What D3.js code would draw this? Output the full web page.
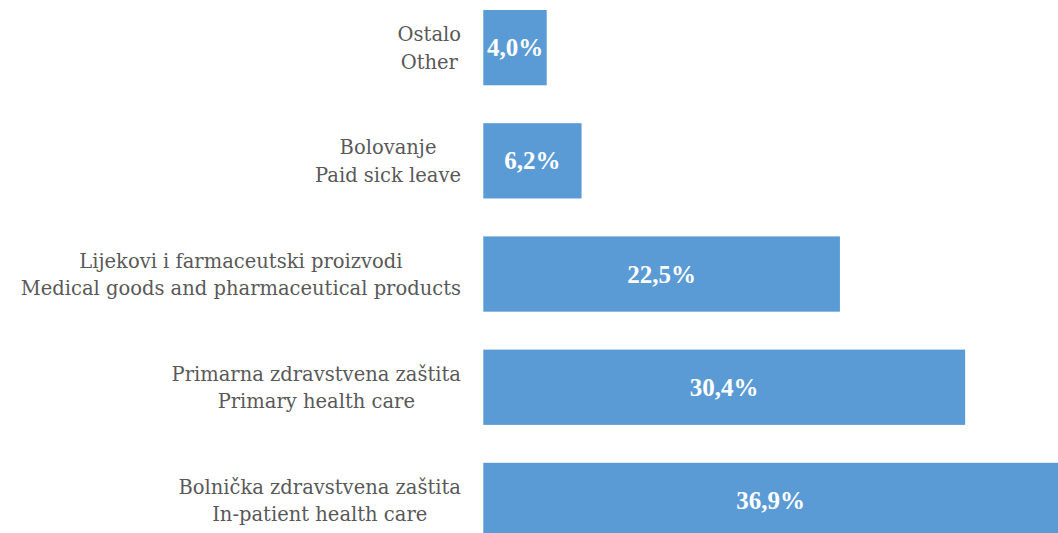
<!DOCTYPE html>
<html>
<head>
<meta charset="utf-8">
<script src="https://cdn.jsdelivr.net/npm/d3@7"></script>
<style>
  html, body { margin: 0; padding: 0; background: #fff; }
  svg { display: block; }
</style>
</head>
<body>
<svg id="chart" width="1058" height="533"></svg>
<script>
const categoriesHr = ["Ostalo", "Bolovanje", "Lijekovi i farmaceutski proizvodi", "Primarna zdravstvena zaština", "Bolnička zdravstvena zaštita"];
const categoriesEn = ["Other", "Paid sick leave", "Medical goods and pharmaceutical products", "Primary health care", "In-patient health care"];
const values = [4.0, 6.2, 22.5, 30.4, 36.9];
const valueLabels = ["4,0%", "6,2%", "22,5%", "30,4%", "36,9%"];
</script>
<script>
// fix typo-safe category text
categoriesHr[3] = "Primarna zdravstvena zaštita";

const W = 1058, H = 533;
const svg = d3.select("#chart");
const x0 = 483.3;
const x = d3.scaleLinear().domain([0, 40]).range([x0, x0 + 40 * 15.85]);
const step = 113.2;
const y = d3.scaleBand()
  .domain(d3.range(values.length))
  .range([10 - step * 0.1675, 10 - step * 0.1675 + step * values.length])
  .paddingInner(0.335)
  .paddingOuter(0.1675);

svg.append("g").selectAll("rect").data(values).join("rect")
  .attr("x", x(0))
  .attr("y", (d, i) => y(i))
  .attr("width", d => x(d) - x(0))
  .attr("height", y.bandwidth())
  .attr("fill", "#5B9BD5");

svg.append("g").selectAll("text").data(values).join("text")
  .attr("x", d => (x(0) + Math.min(x(d), W)) / 2)
  .attr("y", (d, i) => y(i) + y.bandwidth() / 2)
  .attr("dy", "0.34em")
  .attr("text-anchor", "middle")
  .attr("font-family", "'Liberation Serif', serif")
  .attr("font-weight", "bold")
  .attr("font-size", 25)
  .attr("fill", "#fff")
  .text((d, i) => valueLabels[i]);

const rightEdge = 461;
const lg = svg.append("g");
values.forEach((v, i) => {
  const cy = y(i) + y.bandwidth() / 2;
  const t = lg.append("text")
    .attr("font-family", "'DejaVu Serif', serif")
    .attr("font-size", 19.5)
    .attr("fill", "#595959")
    .attr("text-anchor", "middle");
  const a = t.append("tspan").attr("y", cy - 6.5).text(categoriesHr[i]);
  const b = t.append("tspan").attr("y", cy + 21).text(categoriesEn[i]);
  const wMax = Math.max(a.node().getComputedTextLength(), b.node().getComputedTextLength());
  const cx = rightEdge - wMax / 2;
  a.attr("x", cx); b.attr("x", cx);
});
</script>
</body>
</html>
